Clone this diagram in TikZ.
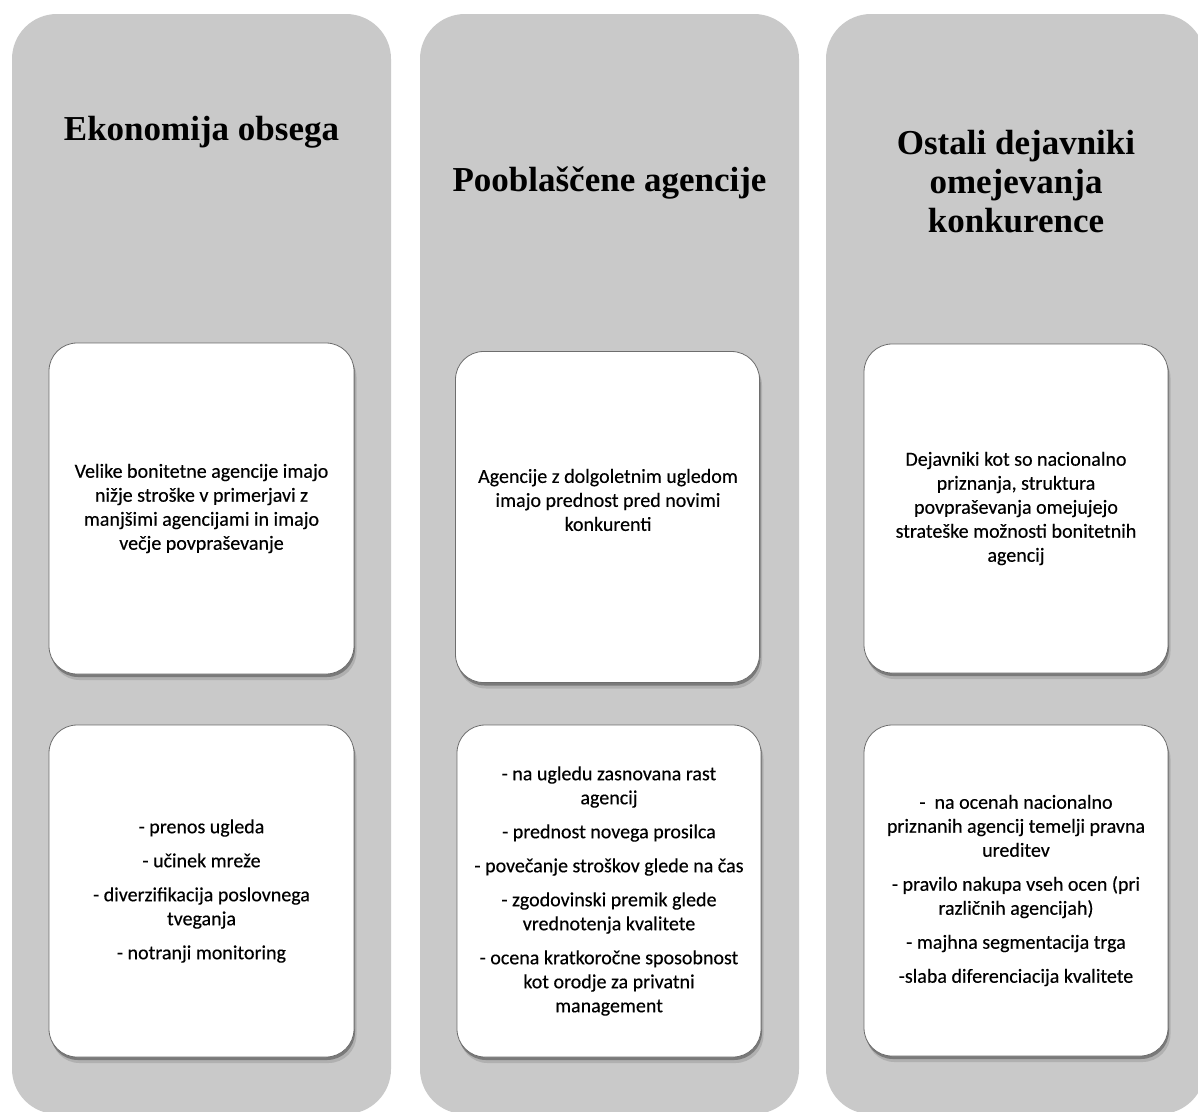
\documentclass[tikz,border=0pt]{standalone}
\usepackage{fontspec}
\setmainfont{Liberation Serif}
\newfontfamily\bodyfont{Carlito}[FakeBold=0.35]
\usetikzlibrary{shadows}
\definecolor{colgrey}{RGB}{201,201,201}
\definecolor{boxline}{RGB}{110,110,110}
\begin{document}
\begin{tikzpicture}[x=1pt,y=-1pt,
  column/.style={fill=colgrey, rounded corners=45pt},
  card/.style={draw=boxline, line width=0.8pt, fill=white, rounded corners=28pt,
    minimum width=304pt, minimum height=331pt, inner sep=0pt,
    general shadow={fill=black, opacity=0.12, shadow xshift=2.5pt, shadow yshift=-6pt},
    general shadow={fill=black, opacity=0.30, shadow xshift=1pt, shadow yshift=-3pt}},
  header/.style={font=\fontsize{35}{39}\selectfont\bfseries, align=center},
  body/.style={font=\bodyfont\fontsize{20}{24}\selectfont, align=center}]
\useasboundingbox (0,0) rectangle (1198,1111);
\fill[white] (0,0) rectangle (1198,1111);
% columns
\fill[column] (12,14) rectangle (391,1114);
\fill[column] (420,14) rectangle (799,1114);
\fill[column] (826,14) rectangle (1205,1114);
% headers
\node[header, anchor=base] (h1) at (201.5,140) {Ekonomija obsega};
\node[header, anchor=base] (h2) at (609.5,191) {Pooblaščene agencije};
\node[header] (h3) at (1016,182) {Ostali dejavniki\\ omejevanja\\ konkurence};
% cards column 1
\node[card, body, minimum width=305pt] (c1a) at (201.5,508.5)
  {Velike bonitetne agencije imajo\\ nižje stroške v primerjavi z\\ manjšimi agencijami in imajo\\ večje povpraševanje};
\node[card, body, minimum width=305pt, minimum height=332pt] (c1b) at (201.5,891)
  {- prenos ugleda\\[10pt] - učinek mreže\\[10pt] - diverzifikacija poslovnega\\ tveganja\\[10pt] - notranji monitoring};
% cards column 2
\node[card] (c2a) at (607.5,517) {};
\node[body] (t2a) at (608,500) {Agencije z dolgoletnim ugledom\\ imajo prednost pred novimi\\ konkurenti};
\node[card, body, minimum height=332pt] (c2b) at (609,891)
  {- na ugledu zasnovana rast\\ agencij\\[10pt] - prednost novega prosilca\\[10pt] - povečanje stroškov glede na čas\\[10pt] - zgodovinski premik glede\\ vrednotenja kvalitete\\[10pt] - ocena kratkoročne sposobnost\\ kot orodje za privatni\\ management};
% cards column 3
\node[card, body, minimum height=329pt] (c3a) at (1016,508.5)
  {Dejavniki kot so nacionalno\\ priznanja, struktura\\ povpraševanja omejujejo\\ strateške možnosti bonitetnih\\ agencij};
\node[card, body] (c3b) at (1016,890.5)
  {-\ \ na ocenah nacionalno\\ priznanih agencij temelji pravna\\ ureditev\\[10pt] - pravilo nakupa vseh ocen (pri\\ različnih agencijah)\\[10pt] - majhna segmentacija trga\\[10pt] -slaba diferenciacija kvalitete};
\end{tikzpicture}
\end{document}
